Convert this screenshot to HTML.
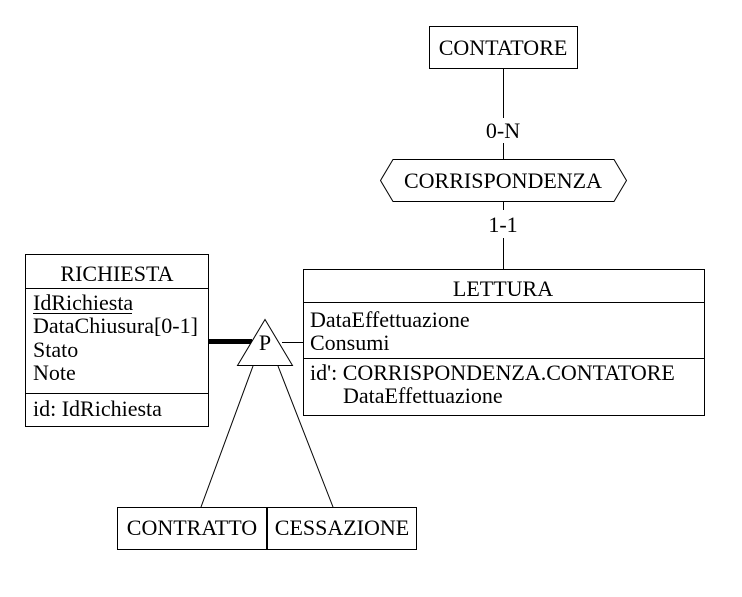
<!DOCTYPE html>
<html><head><style>
body{margin:0;background:#fff;}
svg text{font-family:"Liberation Serif",serif;font-size:22px;fill:#000;}
</style></head><body>
<svg width="742" height="592" viewBox="0 0 742 592" xmlns="http://www.w3.org/2000/svg">
<g fill="none" stroke="#000" stroke-width="1">
<rect x="429.5" y="26.5" width="148" height="42" fill="#fff"/>
<line x1="503.5" y1="68" x2="503.5" y2="118"/>
<line x1="503.5" y1="143" x2="503.5" y2="159"/>
<polygon points="380.5,180.5 393,159.5 614,159.5 626.5,180.5 614,201.5 393,201.5" fill="#fff"/>
<line x1="503.5" y1="201" x2="503.5" y2="210"/>
<line x1="503.5" y1="238" x2="503.5" y2="269"/>
<rect x="303.5" y="269.5" width="401" height="146" fill="#fff"/>
<line x1="303" y1="302.5" x2="704" y2="302.5"/>
<line x1="303" y1="358.5" x2="704" y2="358.5"/>
<rect x="25.5" y="254.5" width="183" height="172" fill="#fff"/>
<line x1="25" y1="288.5" x2="208" y2="288.5"/>
<line x1="25" y1="393.5" x2="208" y2="393.5"/>
<line x1="208" y1="341.5" x2="252" y2="341.5" stroke-width="5"/>
<line x1="282" y1="342.5" x2="303" y2="342.5"/>
<polygon points="265,319.5 237.5,365.5 292.5,365.5" fill="#fff"/>
<line x1="253" y1="366" x2="201" y2="507"/>
<line x1="278" y1="366" x2="333" y2="507"/>
<rect x="117.5" y="507.5" width="149" height="42" fill="#fff"/>
<rect x="267.5" y="507.5" width="149" height="42" fill="#fff"/>
<line x1="33" y1="313.5" x2="132" y2="313.5"/>
</g>
<text x="503" y="55" text-anchor="middle">CONTATORE</text>
<text x="503" y="138" text-anchor="middle">0-N</text>
<text x="503" y="188" text-anchor="middle">CORRISPONDENZA</text>
<text x="503" y="232" text-anchor="middle">1-1</text>
<text x="503" y="296" text-anchor="middle">LETTURA</text>
<text x="310" y="327">DataEffettuazione</text>
<text x="310" y="350">Consumi</text>
<text x="310" y="380">id': CORRISPONDENZA.CONTATORE</text>
<text x="343" y="403">DataEffettuazione</text>
<text x="117" y="281" text-anchor="middle">RICHIESTA</text>
<text x="33" y="310">IdRichiesta</text>
<text x="33" y="333">DataChiusura[0-1]</text>
<text x="33" y="357">Stato</text>
<text x="33" y="380">Note</text>
<text x="33" y="416">id: IdRichiesta</text>
<text x="265" y="350" text-anchor="middle">P</text>
<text x="192" y="535" text-anchor="middle">CONTRATTO</text>
<text x="342" y="535" text-anchor="middle">CESSAZIONE</text>
</svg>
</body></html>
